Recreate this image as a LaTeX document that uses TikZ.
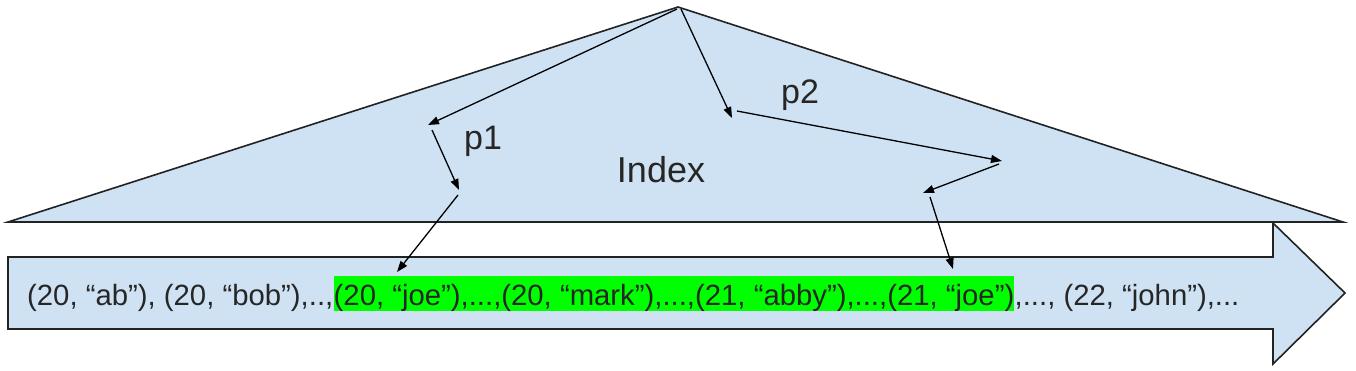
\documentclass[tikz,border=0pt]{standalone}
\usepackage{fontspec}
\setmainfont{Liberation Sans}
\usetikzlibrary{arrows.meta}
\definecolor{idxblue}{HTML}{CFE2F3}
\definecolor{hlgreen}{HTML}{00FF00}
\definecolor{edge}{HTML}{222222}
\begin{document}
\begin{tikzpicture}[x=1pt,y=-1pt,
  shapeline/.style={draw=edge, line width=1.6pt, fill=idxblue, line join=miter},
  ptr/.style={draw=black, line width=1.3pt, -{Triangle[length=11pt,width=8pt]}},
  rowtext/.style={inner sep=0pt, font=\fontsize{29.3}{34}\selectfont, text=black!85},
  hlbox/.style={fill=hlgreen, text height=29pt, text depth=6pt},
  biglabel/.style={font=\fontsize{36}{40}\selectfont, text=black!85, inner sep=0pt},
  plabel/.style={font=\fontsize{34}{38}\selectfont, text=black!85, inner sep=0pt}]
\useasboundingbox (0,0) rectangle (1356,370);
\fill[white] (0,0) rectangle (1356,370);
% index triangle
\path[shapeline] (678,7) -- (1343,222) -- (8,222) -- cycle;
% data arrow
\path[shapeline] (8,257) -- (1273,257) -- (1273,223) -- (1345,293) -- (1273,364) -- (1273,329) -- (8,329) -- cycle;
% labels
\node[biglabel] (idx) at (661,170) {Index};
\node[plabel] (p1) at (483,141) {p1};
\node[plabel] (p2) at (800,95) {p2};
% row text
\node[rowtext, anchor=base west] (t1) at (27,305) {(20, “ab”), (20, “bob”),..,};
\node[rowtext, hlbox, anchor=base west] (t2) at (t1.base east) {(20, “joe”),...,(20, “mark”),...,(21, “abby”),...,(21, “joe”)};
\node[rowtext, anchor=base west] (t3) at (t2.base east) {,..., (22, “john”),...};
% path coordinates
\coordinate (apexA) at (677,9);
\coordinate (a1) at (428,125);
\coordinate (a2s) at (432,130);
\coordinate (a2) at (459,190);
\coordinate (a3s) at (458,195);
\coordinate (a3) at (397,272);
\coordinate (apexB) at (681,9);
\coordinate (b1) at (732,118);
\coordinate (b2s) at (737,111);
\coordinate (b2) at (1002,161);
\coordinate (b3s) at (999,164);
\coordinate (b3) at (923,193);
\coordinate (b4s) at (930,197);
\coordinate (b4) at (953,269);
\draw[ptr] (apexA) -- (a1);
\draw[ptr] (a2s) -- (a2);
\draw[ptr] (a3s) -- (a3);
\draw[ptr] (apexB) -- (b1);
\draw[ptr] (b2s) -- (b2);
\draw[ptr] (b3s) -- (b3);
\draw[ptr] (b4s) -- (b4);
\end{tikzpicture}
\end{document}
